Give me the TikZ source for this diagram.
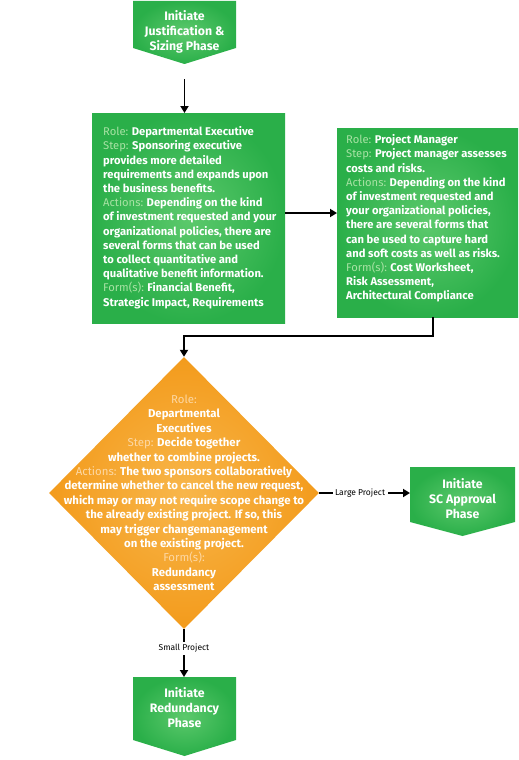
\documentclass[tikz,border=0pt]{standalone}
\usepackage{fontspec}
\setmainfont{Fira Sans}
\usetikzlibrary{arrows.meta,shapes.geometric}
\definecolor{gmain}{HTML}{2AAF49}
\definecolor{glight}{HTML}{5CC96C}
\definecolor{glab}{HTML}{A8E2A4}
\definecolor{omain}{HTML}{F39B1C}
\definecolor{olight}{HTML}{F8B64A}
\definecolor{olab}{HTML}{FDD8A4}
\newcommand\gl[1]{{\mdseries\color{glab}#1}}
\newcommand\ol[1]{{\mdseries\color{olab}#1}}
\tikzset{
  gshade/.style={shade, inner color=glight, outer color=gmain},
  gbox/.style={rectangle, inner sep=0pt, gshade, anchor=north west},
  arr/.style={line width=1.9pt, -{Triangle[width=8pt,length=7pt]}},
  boxtext/.style={text=white, font=\bfseries\fontsize{11.2}{14.2}\selectfont, align=left, inner sep=0pt, anchor=north west},
  titletext/.style={text=white, font=\bfseries\fontsize{12.3}{15}\selectfont, align=center, inner sep=0pt},
  dtext/.style={text=white, font=\bfseries\fontsize{11.4}{14.4}\selectfont, align=center, inner sep=0pt},
  edgelabel/.style={fill=white, text=black, font=\fontsize{8.5}{10}\selectfont, inner sep=2.5pt},
}
\begin{document}
\begin{tikzpicture}[x=1pt,y=-1pt]
\useasboundingbox (0,0) rectangle (519,760);
% top pentagon
\shade[inner color=glight, outer color=gmain] (133,1) -- (236,1) -- (236,48) -- (184.5,64) -- (133,48) -- cycle;
\coordinate (p1tip) at (184.5,64);
\node[titletext] (p1) at (184.5,32) {Initiate\\Justification \&\\Sizing Phase};
% box 1
\node[gbox, minimum width=193pt, minimum height=210pt] (b1) at (92,113) {};
\node[boxtext] (t1) at (103,126.5) {\gl{Role:} Departmental Executive\\
\gl{Step:} Sponsoring executive\\
provides more detailed\\
requirements and expands upon\\
the business benefits.\\
\gl{Actions:} Depending on the kind\\
of investment requested and your\\
organizational policies, there are\\
several forms that can be used\\
to collect quantitative and\\
qualitative benefit information.\\
\gl{Form(s):} Financial Benefit,\\
Strategic Impact, Requirements};
% box 2
\node[gbox, minimum width=181pt, minimum height=189pt] (b2) at (337,128) {};
\node[boxtext] (t2) at (346,134.5) {\gl{Role:} Project Manager\\
\gl{Step:} Project manager assesses\\
costs and risks.\\
\gl{Actions:} Depending on the kind\\
of investment requested and\\
your organizational policies,\\
there are several forms that\\
can be used to capture hard\\
and soft costs as well as risks.\\
\gl{Form(s):} Cost Worksheet,\\
Risk Assessment,\\
Architectural Compliance};
% diamond
\node[diamond, minimum width=270pt, minimum height=272pt, inner sep=0pt, shade, inner color=olight, outer color=omain] (dia) at (184,493) {};
\node[dtext] (dt) at (184,493) {\ol{Role:}\\
Departmental\\
Executives\\
\ol{Step:} Decide together\\
whether to combine projects.\\
\ol{Actions:} The two sponsors collaboratively\\
determine whether to cancel the new request,\\
which may or may not require scope change to\\
the already existing project. If so, this\\
may trigger changemanagement\\
on the existing project.\\
\ol{Form(s):}\\
Redundancy\\
assessment};
% SC approval pentagon
\shade[inner color=glight, outer color=gmain] (410,467) -- (515,467) -- (515,522) -- (462.5,536) -- (410,522) -- cycle;
\coordinate (p3w) at (410,493);
\node[titletext] (p3) at (462.5,499) {Initiate\\SC Approval\\Phase};
% redundancy pentagon
\shade[inner color=glight, outer color=gmain] (133,677) -- (236,677) -- (236,740) -- (184.5,756) -- (133,740) -- cycle;
\coordinate (p2n) at (184,677);
\node[titletext] (p2) at (184.5,708) {Initiate\\Redundancy\\Phase};
% connectors
\draw[arr, shorten <=15pt] (p1tip) -- (p1tip |- b1.north);
\draw[arr] (b1.east |- 0,213) -- (b2.west |- 0,213);
\draw[arr] ([xshift=5.5pt]b2.south) |- ([yshift=21pt]dia.north) -- (dia.north);
\draw[arr] (dia.east) -- node[edgelabel, pos=0.45] {Large Project} (p3w);
\draw[arr] (dia.south) -- node[edgelabel, pos=0.4] {Small Project} (p2n);
\end{tikzpicture}
\end{document}
